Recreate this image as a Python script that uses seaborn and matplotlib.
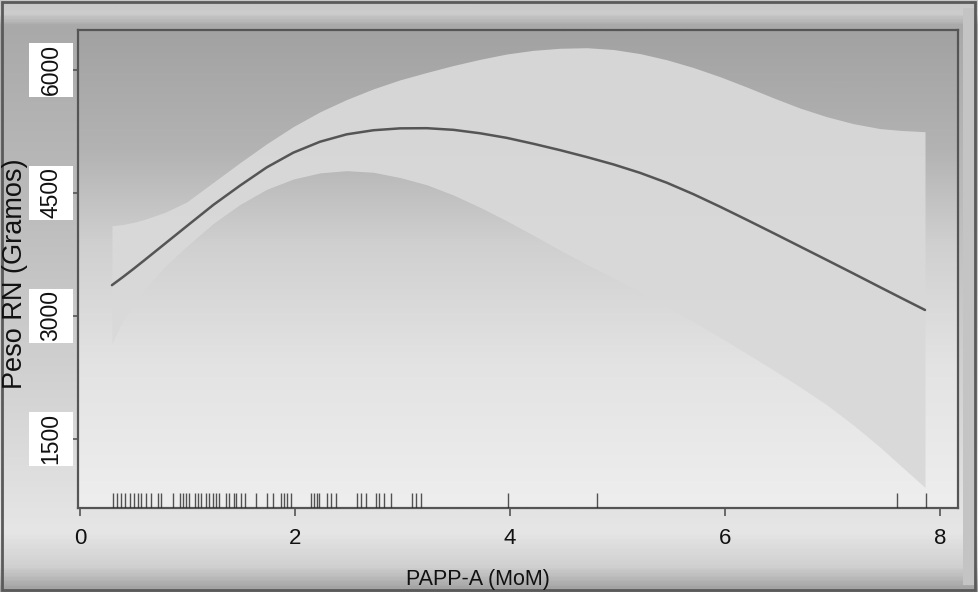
import numpy as np
import pandas as pd
import matplotlib
matplotlib.use("Agg")
import matplotlib.pyplot as plt
import seaborn as sns
from matplotlib.colors import LinearSegmentedColormap
from matplotlib.patches import Rectangle
from matplotlib.transforms import blended_transform_factory

# ---------------- data ----------------
papp_x = [0.297, 0.397, 0.496, 0.595, 0.794, 0.993, 1.241, 1.489, 1.737, 1.985,
          2.233, 2.481, 2.730, 2.978, 3.226, 3.474, 3.722, 3.970, 4.218, 4.467,
          4.715, 4.963, 5.211, 5.459, 5.707, 5.955, 6.204, 6.452, 6.700, 6.948,
          7.196, 7.444, 7.643, 7.862]
peso_fit = [3375, 3472, 3572, 3675, 3885, 4095, 4355, 4590, 4812, 4992,
            5125, 5215, 5265, 5288, 5290, 5270, 5228, 5172, 5100, 5022,
            4938, 4848, 4745, 4625, 4485, 4332, 4172, 4010, 3846, 3682,
            3517, 3350, 3217, 3072]
peso_upper = [4100, 4115, 4140, 4175, 4265, 4390, 4630, 4870, 5100, 5310,
              5490, 5640, 5770, 5880, 5970, 6055, 6130, 6195, 6240, 6265,
              6272, 6250, 6200, 6125, 6030, 5918, 5792, 5660, 5535, 5430,
              5345, 5285, 5262, 5247]
peso_lower = [2669, 2940, 3150, 3320, 3610, 3850, 4130, 4360, 4545, 4670,
              4745, 4772, 4752, 4688, 4600, 4475, 4325, 4160, 3983, 3803,
              3628, 3462, 3298, 3118, 2932, 2738, 2540, 2340, 2133, 1915,
              1668, 1398, 1163, 907]

rug_x = [0.304, 0.344, 0.381, 0.421, 0.467, 0.499, 0.536, 0.567, 0.613, 0.660,
         0.722, 0.753, 0.862, 0.932, 0.955, 0.985, 1.016, 1.072, 1.094, 1.125,
         1.171, 1.202, 1.234, 1.264, 1.295, 1.357, 1.388, 1.434, 1.450, 1.496,
         1.533, 1.636, 1.744, 1.791, 1.868, 1.899, 1.930, 1.961, 2.147, 2.178,
         2.209, 2.224, 2.302, 2.333, 2.379, 2.581, 2.612, 2.658, 2.751, 2.782,
         2.828, 2.890, 3.092, 3.123, 3.169, 3.981, 4.812, 7.602, 7.872]

x_ticks = [0, 2, 4, 6, 8]
y_ticks = [1500, 3000, 4500, 6000]
y_ticklabels = ["1500", "3000", "4500", "6000"]
x_label = "PAPP-A (MoM)"
y_label = "Peso RN (Gramos)"

df = pd.DataFrame({"x": papp_x, "fit": peso_fit, "lo": peso_lower, "hi": peso_upper})
rug_df = pd.DataFrame({"x": rug_x})

# ---------------- figure ----------------
sns.set_theme(style="white")
plt.rcParams["font.family"] = ["Liberation Sans", "DejaVu Sans"]

W, H = 979, 592
fig = plt.figure(figsize=(W / 100, H / 100), dpi=100)

# figure background gradient (beveled frame)
bg = fig.add_axes([0, 0, 1, 1], zorder=-5)
bg.set_axis_off()
fig_cmap = LinearSegmentedColormap.from_list(
    "figbg",
    [(0.0, "#c8c8c8"), (0.02, "#cdcdcd"), (0.04, "#a9a9a9"), (0.35, "#bcbcbc"),
     (0.70, "#d6d6d6"), (0.90, "#e6e6e6"), (0.96, "#d0d0d0"), (1.0, "#a0a0a0")])
grad = np.linspace(0, 1, 400).reshape(-1, 1)
bg.imshow(grad, cmap=fig_cmap, aspect="auto", extent=[0, 1, 0, 1],
          origin="upper", transform=bg.transAxes)
bg.set_xlim(0, 1)
bg.set_ylim(0, 1)
bg.add_patch(Rectangle((0.984, 0.012), 0.011, 0.975, transform=bg.transAxes,
                       facecolor="#c4c4c4", edgecolor="none"))
bg.add_patch(Rectangle((0.002, 0.003), 0.994, 0.993, transform=bg.transAxes,
                       fill=False, edgecolor="#5a5a5a", lw=2.0))

ax = fig.add_axes([78 / W, 1 - 508 / H, (958 - 78) / W, (508 - 30) / H], zorder=1)
ax.set_facecolor("none")

# axes background gradient
ax_cmap = LinearSegmentedColormap.from_list(
    "axbg",
    [(0.0, "#a2a2a2"), (0.25, "#b3b3b3"), (0.45, "#d0d0d0"), (0.7, "#e3e3e3"),
     (1.0, "#eeeeee")])
ax.imshow(grad, cmap=ax_cmap, aspect="auto", extent=[0, 1, 0, 1],
          origin="upper", transform=ax.transAxes, zorder=0)

# confidence band
ax.fill_between(df["x"], df["lo"], df["hi"], color="#d9d9d9", alpha=0.95,
                lw=0, zorder=1)
# fitted line
sns.lineplot(data=df, x="x", y="fit", color="#555555", lw=1.8, ax=ax, zorder=3)
# rug
sns.rugplot(data=rug_df, x="x", height=0.031, color="#2a2a2a", lw=1.5,
            alpha=0.8, ax=ax, zorder=4)

ax.set_xlim(-0.019, 8.169)
ax.set_ylim(656, 6488)

ax.set_xticks(x_ticks)
ax.set_xticklabels([str(t) for t in x_ticks], fontsize=16, color="#111111")
ax.set_yticks(y_ticks)
ax.set_yticklabels(y_ticklabels, rotation=90, va="center", fontsize=16.5,
                   color="#111111")

# white boxes behind the y tick labels (drawn on the background layer)
trans = blended_transform_factory(ax.transAxes, ax.transData)
for t in y_ticks:
    bg.add_patch(Rectangle((-0.0557, t - 330), 0.05, 660, transform=trans,
                           facecolor="white", edgecolor="none", clip_on=False,
                           zorder=5))

ax.tick_params(axis="x", direction="out", length=6, width=1.2, color="#555555",
               pad=8.5, bottom=True)
ax.tick_params(axis="y", direction="out", length=3.6, width=1.2, color="#555555",
               pad=7.5, left=True)

ax.set_xlabel(x_label, fontsize=15.5, color="#111111")
ax.xaxis.set_label_coords(0.455, -0.128)
ax.set_ylabel(y_label, fontsize=19.5, color="#111111")
ax.yaxis.set_label_coords(-0.057, 0.49)

for s in ax.spines.values():
    s.set_visible(True)
    s.set_color("#555555")
    s.set_linewidth(1.6)

fig.savefig("out.png", dpi=100)
